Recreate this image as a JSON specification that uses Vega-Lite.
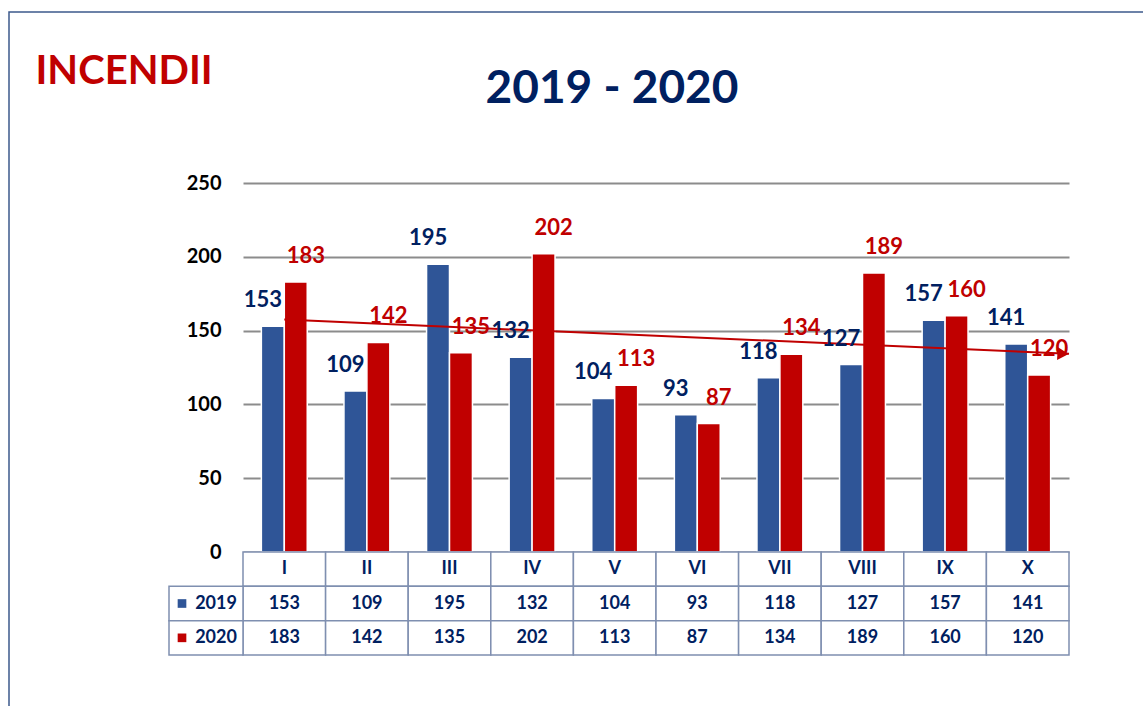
{
  "$schema": "https://vega.github.io/schema/vega-lite/v6.json",
  "width": 1140,
  "height": 700,
  "autosize": {"type": "none"},
  "padding": {"left": 9, "top": 12, "right": 0, "bottom": 0},
  "background": "white",
  "config": {
    "view": {"stroke": "#3c5a8c", "strokeWidth": 1.5},
    "font": "Lato"
  },
  "title": {
    "text": "2019 - 2020",
    "font": "Lato",
    "fontSize": 46,
    "fontWeight": "bold",
    "color": "#002060",
    "anchor": "middle",
    "frame": "group",
    "baseline": "alphabetic",
    "offset": -137,
    "dx": 33
  },
  "datasets": {
    "main": [
      {"month": "I", "m": 1, "year": "2019", "value": 153},
      {"month": "I", "m": 1, "year": "2020", "value": 183},
      {"month": "II", "m": 2, "year": "2019", "value": 109},
      {"month": "II", "m": 2, "year": "2020", "value": 142},
      {"month": "III", "m": 3, "year": "2019", "value": 195},
      {"month": "III", "m": 3, "year": "2020", "value": 135},
      {"month": "IV", "m": 4, "year": "2019", "value": 132},
      {"month": "IV", "m": 4, "year": "2020", "value": 202},
      {"month": "V", "m": 5, "year": "2019", "value": 104},
      {"month": "V", "m": 5, "year": "2020", "value": 113},
      {"month": "VI", "m": 6, "year": "2019", "value": 93},
      {"month": "VI", "m": 6, "year": "2020", "value": 87},
      {"month": "VII", "m": 7, "year": "2019", "value": 118},
      {"month": "VII", "m": 7, "year": "2020", "value": 134},
      {"month": "VIII", "m": 8, "year": "2019", "value": 127},
      {"month": "VIII", "m": 8, "year": "2020", "value": 189},
      {"month": "IX", "m": 9, "year": "2019", "value": 157},
      {"month": "IX", "m": 9, "year": "2020", "value": 160},
      {"month": "X", "m": 10, "year": "2019", "value": 141},
      {"month": "X", "m": 10, "year": "2020", "value": 120}
    ]
  },
  "data": {"name": "main"},
  "resolve": {"scale": {"x": "independent", "y": "independent", "color": "independent"}},
  "layer": [
    {
      "encoding": {
        "x": {
          "field": "month", "type": "nominal", "sort": null,
          "scale": {"domain": ["I","II","III","IV","V","VI","VII","VIII","IX","X"], "range": [234, 1060], "paddingInner": 0, "paddingOuter": 0},
          "axis": null
        },
        "xOffset": {
          "field": "year", "type": "nominal",
          "scale": {"domain": ["2019","2020"], "paddingInner": 0, "paddingOuter": 0.8}
        },
        "y": {
          "field": "value", "type": "quantitative",
          "scale": {"domain": [0, 250], "range": [540, 171], "nice": false, "zero": true},
          "axis": {
            "orient": "left",
            "offset": -234,
            "values": [0, 50, 100, 150, 200, 250],
            "grid": true,
            "gridColor": "#8c8c8c",
            "gridWidth": 2,
            "domain": false,
            "ticks": false,
            "labelFont": "Lato",
            "labelFontSize": 20,
            "labelFontWeight": "bold",
            "labelColor": "#000000",
            "labelPadding": 22,
            "title": "INCENDII",
            "titleAngle": 0,
            "titleX": -208,
            "titleY": 71,
            "titleAlign": "left",
            "titleBaseline": "alphabetic",
            "titleFont": "Lato",
            "titleFontSize": 40,
            "titleFontWeight": "bold",
            "titleColor": "#C00000"
          }
        }
      },
      "layer": [
        {
          "mark": {"type": "bar", "stroke": "white", "strokeWidth": 1.5},
          "encoding": {
            "color": {
              "field": "year", "type": "nominal",
              "scale": {"domain": ["2019","2020"], "range": ["#2F5597", "#C00000"]},
              "legend": null
            }
          }
        }
      ]
    },
    {
      "transform": [
        {"filter": "datum.year == '2020'"},
        {"regression": "value", "on": "m", "method": "linear", "extent": [1, 10.5]}
      ],
      "encoding": {
        "x": {"field": "m", "type": "quantitative", "scale": {"domain": [0.5, 10.5], "range": [234, 1060], "nice": false, "zero": false}, "axis": null},
        "y": {"field": "value", "type": "quantitative", "scale": {"domain": [0, 250], "range": [540, 171], "nice": false, "zero": true}, "axis": null}
      },
      "layer": [
        {"mark": {"type": "line", "color": "#C00000", "strokeWidth": 2}},
        {
          "transform": [{"filter": "datum.m >= 10.49"}],
          "mark": {"type": "point", "shape": "triangle-right", "filled": true, "color": "#C00000", "opacity": 1, "size": 170, "xOffset": -6, "angle": 2.5}
        }
      ]
    },
    {
      "encoding": {
        "x": {
          "field": "month", "type": "nominal", "sort": null,
          "scale": {"domain": ["I","II","III","IV","V","VI","VII","VIII","IX","X"], "range": [234, 1060], "paddingInner": 0, "paddingOuter": 0},
          "axis": null
        },
        "xOffset": {
          "field": "year", "type": "nominal",
          "scale": {"domain": ["2019","2020"], "paddingInner": 0, "paddingOuter": 0.8}
        },
        "y": {
          "field": "value", "type": "quantitative",
          "scale": {"domain": [0, 250], "range": [540, 171], "nice": false, "zero": true},
          "axis": null
        }
      },
      "layer": [
        {
          "transform": [{"filter": "datum.year == '2019'"}],
          "mark": {"type": "text", "font": "Lato", "fontSize": 22, "fontWeight": "bold", "color": "#002060", "baseline": "middle", "dx": -10, "dy": -26},
          "encoding": {"text": {"field": "value", "type": "quantitative"}}
        },
        {
          "transform": [{"filter": "datum.year == '2020'"}],
          "mark": {"type": "text", "font": "Lato", "fontSize": 22, "fontWeight": "bold", "color": "#C00000", "baseline": "middle", "dx": 10, "dy": -26},
          "encoding": {"text": {"field": "value", "type": "quantitative"}}
        }
      ]
    },
    {
      "encoding": {
        "x": {
          "field": "month", "type": "nominal", "sort": null,
          "scale": {"domain": ["I","II","III","IV","V","VI","VII","VIII","IX","X"], "range": [234, 1060], "paddingInner": 0, "paddingOuter": 0},
          "axis": null
        }
      },
      "layer": [
        {
          "transform": [{"filter": "datum.year == '2019'"}],
          "mark": {"type": "rect", "fill": "white", "stroke": "#7f8fb0", "strokeWidth": 1.5},
          "encoding": {
            "y": {"datum": "hdr", "type": "nominal", "scale": {"domain": ["hdr","2019","2020"], "range": [540, 643], "paddingInner": 0, "paddingOuter": 0}, "axis": null}
          }
        },
        {
          "mark": {"type": "rect", "fill": "white", "stroke": "#7f8fb0", "strokeWidth": 1.5},
          "encoding": {
            "y": {"field": "year", "type": "nominal", "scale": {"domain": ["hdr","2019","2020"], "range": [540, 643], "paddingInner": 0, "paddingOuter": 0}, "axis": null}
          }
        },
        {
          "transform": [{"filter": "datum.year == '2019'"}],
          "mark": {"type": "text", "font": "Lato", "fontSize": 18, "fontWeight": "bold", "color": "#002060", "baseline": "middle"},
          "encoding": {
            "y": {"datum": "hdr", "type": "nominal", "scale": {"domain": ["hdr","2019","2020"], "range": [540, 643], "paddingInner": 0, "paddingOuter": 0}, "axis": null},
            "text": {"field": "month", "type": "nominal"}
          }
        },
        {
          "mark": {"type": "text", "font": "Lato", "fontSize": 18, "fontWeight": "bold", "color": "#002060", "baseline": "middle"},
          "encoding": {
            "y": {"field": "year", "type": "nominal", "scale": {"domain": ["hdr","2019","2020"], "range": [540, 643], "paddingInner": 0, "paddingOuter": 0}, "axis": null},
            "text": {"field": "value", "type": "quantitative"}
          }
        }
      ]
    },
    {
      "transform": [{"filter": "datum.m == 1"}],
      "encoding": {
        "x": {"datum": "hdr", "type": "nominal", "scale": {"domain": ["hdr"], "range": [160, 234], "paddingInner": 0, "paddingOuter": 0}, "axis": null},
        "y": {"field": "year", "type": "nominal", "scale": {"domain": ["hdr","2019","2020"], "range": [540, 643], "paddingInner": 0, "paddingOuter": 0}, "axis": null}
      },
      "layer": [
        {"mark": {"type": "rect", "fill": "white", "stroke": "#7f8fb0", "strokeWidth": 1.5}},
        {
          "mark": {"type": "point", "shape": "square", "filled": true, "opacity": 1, "size": 75, "xOffset": -24},
          "encoding": {
            "color": {"field": "year", "type": "nominal", "scale": {"domain": ["2019","2020"], "range": ["#2F5597", "#C00000"]}, "legend": null}
          }
        },
        {
          "mark": {"type": "text", "font": "Lato", "fontSize": 18, "fontWeight": "bold", "color": "#002060", "baseline": "middle", "dx": 10},
          "encoding": {"text": {"field": "year", "type": "nominal"}}
        }
      ]
    }
  ]
}
